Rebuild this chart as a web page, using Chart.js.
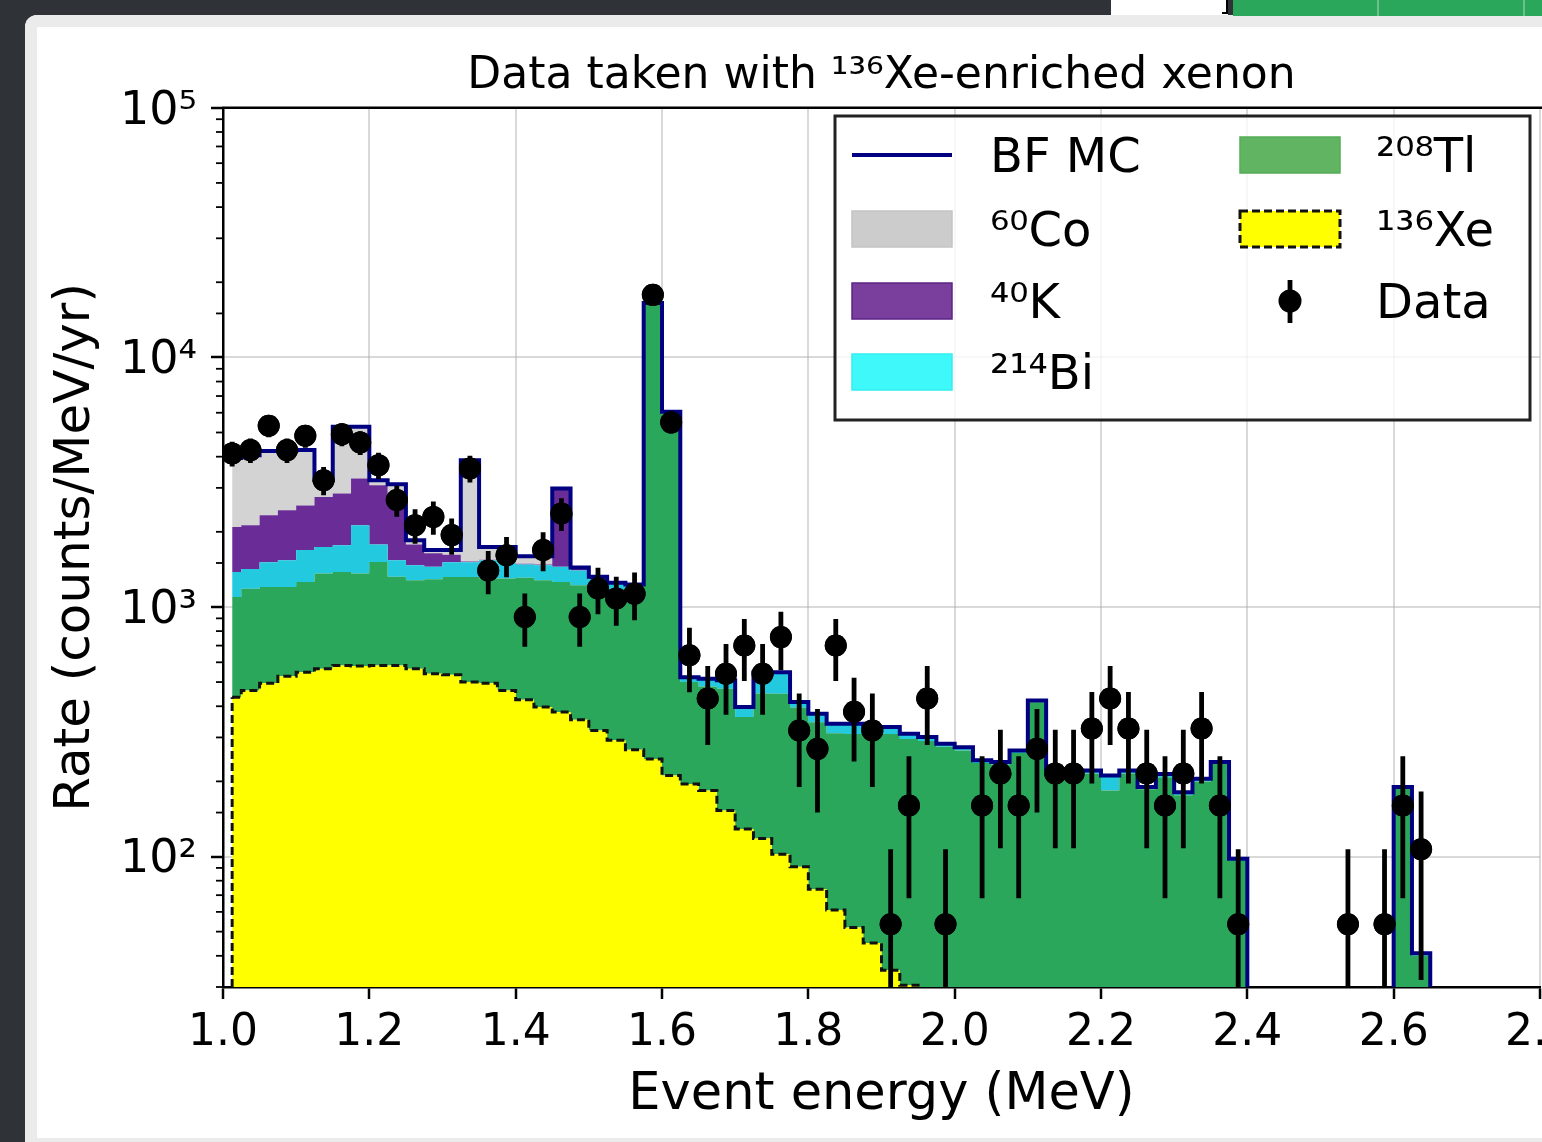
<!DOCTYPE html>
<html>
<head>
<meta charset="utf-8">
<title>Data taken with 136Xe-enriched xenon</title>
<script src="https://cdn.jsdelivr.net/npm/chart.js@4.4.1/dist/chart.umd.min.js"></script>
<style>
  html, body { margin: 0; padding: 0; width: 1542px; height: 1142px; overflow: hidden; background: #2f3338; }
  #card { position: absolute; left: 25px; top: 15px; width: 1600px; height: 1127px; box-sizing: border-box;
          background: #fff; border-top: 12px solid #ebebeb; border-left: 12px solid #ebebeb;
          border-bottom: 4px solid #ebebeb; border-top-left-radius: 12px; }
  /* bit of the next figure peeking in at the top */
  #peekWhite { position: absolute; left: 1111px; top: 0; width: 117px; height: 15px; background: #fff; }
  #peekBracket { position: absolute; left: 1222px; top: 0; width: 4px; height: 12px; border-right: 2px solid #000; border-bottom: 2px solid #000; }
  #peekGreen { position: absolute; left: 1233px; top: 0; width: 320px; height: 16px; background: #2aa75b; }
  .peekGrid { position: absolute; top: 0; width: 2px; height: 16px; background: rgba(255,255,255,0.3); }
  #chart { position: absolute; left: 0; top: 0; }
</style>
</head>
<body>
<div id="card"></div>
<div id="peekWhite"></div><div id="peekBracket"></div>
<div id="peekGreen"></div>
<div class="peekGrid" style="left:1377px"></div><div class="peekGrid" style="left:1523px"></div>
<canvas id="chart" width="1700" height="1142"></canvas>
<script>
//------------------data-------------------------------------------
// bin centres, 25 keV bins
const binCenters = [
  1.0125, 1.0375, 1.0625, 1.0875, 1.1125, 1.1375, 1.1625, 1.1875, 1.2125, 1.2375,
  1.2625, 1.2875, 1.3125, 1.3375, 1.3625, 1.3875, 1.4125, 1.4375, 1.4625, 1.4875,
  1.5125, 1.5375, 1.5625, 1.5875, 1.6125, 1.6375, 1.6625, 1.6875, 1.7125, 1.7375,
  1.7625, 1.7875, 1.8125, 1.8375, 1.8625, 1.8875, 1.9125, 1.9375, 1.9625, 1.9875,
  2.0125, 2.0375, 2.0625, 2.0875, 2.1125, 2.1375, 2.1625, 2.1875, 2.2125, 2.2375,
  2.2625, 2.2875, 2.3125, 2.3375, 2.3625, 2.3875, 2.4125, 2.4375, 2.4625, 2.4875,
  2.5125, 2.5375, 2.5625, 2.5875, 2.6125, 2.6375, 2.6625, 2.6875, 2.7125, 2.7375,
  2.7625, 2.7875
];

// MC components, counts/MeV/yr (stacked bottom to top)
const xe136 = [
  435, 463, 495, 527, 548, 565, 583, 580, 583, 583,
  565, 540, 535, 500, 495, 463, 425, 397, 379, 353,
  320, 292, 268, 246, 211, 195, 184, 153, 129, 118,
  102, 91, 74, 61, 52, 45, 35, 30.5, 0, 0,
  0, 0, 0, 0, 0, 0, 0, 0, 0, 0,
  0, 0, 0, 0, 0, 0, 0, 0, 0, 0,
  0, 0, 0, 0, 0, 0, 0, 0, 0, 0,
  0, 0
];
const tl208 = [
  661, 721, 707, 675, 711, 795, 797, 780, 931, 737,
  713, 750, 783, 818, 805, 837, 885, 881, 880, 868,
  830, 838, 852, 16150, 5690, 305, 296, 317, 233, 332,
  347, 304, 271, 251, 258, 258, 275, 265, 290, 275,
  266, 237, 233, 260, 415, 218, 215, 215, 184, 215,
  186, 208, 176, 200, 235, 96, 0, 0, 0, 0,
  0, 0, 0, 0, 187, 40, 0, 0, 0, 0,
  0, 0
];
const bi214 = [
  284, 236, 308, 338, 431, 380, 385, 765, 266, 220,
  192, 160, 192, 192, 240, 210, 170, 192, 191, 179,
  140, 100, 90, 50, 90, 23, 35, 38, 35, 98,
  99, 21, 28, 28, 30, 27, 20, 15, 11, 8,
  8, 6, 6, 6, 7, 6, 6, 6, 27, 6,
  4, 6, 5, 5, 4, 2, 0, 0, 0, 0,
  0, 0, 0, 0, 3, 1, 0, 0, 0, 0,
  0, 0
];
const k40 = [
  710, 705, 820, 900, 860, 1020, 1080, 1145, 1295, 1210,
  310, 190, 110, 10, 5, 10, 10, 10, 1490, 20,
  20, 10, 10, 20, 30, 0, 0, 0, 0, 0,
  0, 0, 0, 0, 0, 0, 0, 0, 0, 0,
  0, 0, 0, 0, 0, 0, 0, 0, 0, 0,
  0, 0, 0, 0, 0, 0, 0, 0, 0, 0,
  0, 0, 0, 0, 0, 0, 0, 0, 0, 0,
  0, 0
];
const co60 = [
  1860, 1925, 1890, 1780, 1700, 460, 2425, 2000, 145, 350,
  70, 50, 70, 2350, 195, 220, 105, 115, 40, 20,
  10, 10, 10, 30, 30, 0, 0, 0, 0, 0,
  0, 0, 0, 0, 0, 0, 0, 0, 0, 0,
  0, 0, 0, 0, 0, 0, 0, 0, 0, 0,
  0, 0, 0, 0, 0, 0, 0, 0, 0, 0,
  0, 0, 0, 0, 0, 0, 0, 0, 0, 0,
  0, 0
];

// measured rate and its error (null = empty bin)
const dataRate = [
  4120, 4250, 5320, 4250, 4850, 3220, 4920, 4560, 3700, 2680,
  2125, 2295, 1940, 3590, 1400, 1610, 912, 1690, 2370, 912,
  1185, 1080, 1130, 17800, 5490, 640, 430, 540, 700, 540,
  757, 320, 270, 700, 380, 320, 53.5, 160, 430, 53.5,
  null, 160, 215, 160, 270, 215, 215, 326, 430, 326,
  215, 160, 215, 326, 160, 53.5, null, null, null, null,
  null, 53.5, null, 53.5, 160, 107, null, null, null, null,
  null, null
];
const dataErr = [
  470, 480, 535, 480, 510, 415, 515, 495, 445, 380,
  335, 350, 320, 440, 275, 295, 220, 300, 355, 220,
  250, 240, 245, 975, 540, 185, 150, 170, 195, 170,
  200, 130, 120, 195, 140, 130, 53.5, 92, 150, 53.5,
  null, 92, 107, 92, 120, 107, 107, 130, 150, 130,
  107, 92, 107, 130, 92, 53.5, null, null, null, null,
  null, 53.5, null, 53.5, 92, 75, null, null, null, null,
  null, null
];

const yTickLabels = { 100: '10²', 1000: '10³', 10000: '10⁴', 100000: '10⁵' };

//------------------styles---------------------
const FONT = 'DejaVu Sans';
const ZERO_LEVEL = 1e-3;   // empty bins sit far below the axis on the log scale
const gridColor = 'rgba(170,170,170,0.45)';

Chart.defaults.font.family = FONT;
Chart.defaults.color = '#000';

function stepSeries(values) {
  return binCenters.map((x, i) => ({ x: x, y: values[i] > 0 ? values[i] : ZERO_LEVEL }));
}

function dataPoints() {
  const pts = [];
  binCenters.forEach((x, i) => {
    if (dataRate[i] != null) pts.push({ x: x, y: dataRate[i] });
  });
  return pts;
}

function stackLayer(values, fill, color) {
  return {
    type: 'line', stack: 'mc', data: stepSeries(values), stepped: 'middle',
    fill: fill, backgroundColor: color, borderWidth: 0, pointRadius: 0
  };
}

const xeLayer = stackLayer(xe136, 'start', '#ffff00');
xeLayer.borderWidth = 3;
xeLayer.borderColor = '#111';
xeLayer.borderDash = [8, 4];

const coLayer = stackLayer(co60, '-1', '#d3d3d3');
coLayer.borderWidth = 4;
coLayer.borderColor = '#000080';

//------------------plugins---------------------
const frameAndErrors = {
  id: 'frameAndErrors',
  afterDatasetsDraw(chart) {
    // left edge of the 136Xe outline
    const { ctx, chartArea: a, scales: { x, y } } = chart;
    ctx.save();
    ctx.beginPath();
    ctx.rect(a.left, a.top, a.right - a.left, a.bottom - a.top);
    ctx.clip();
    ctx.strokeStyle = '#111';
    ctx.lineWidth = 3;
    ctx.setLineDash([8, 4]);
    const px = x.getPixelForValue(binCenters[0]);
    ctx.beginPath();
    ctx.moveTo(px, a.bottom);
    ctx.lineTo(px, y.getPixelForValue(xe136[0]));
    ctx.stroke();
    ctx.restore();
  },
  afterDraw(chart) {
    const { ctx, chartArea: a, scales: { x, y } } = chart;
    ctx.save();

    // top spine
    ctx.strokeStyle = '#000';
    ctx.lineWidth = 2.5;
    ctx.beginPath();
    ctx.moveTo(a.left - 1, a.top);
    ctx.lineTo(a.right + 4, a.top);
    ctx.stroke();

    // minor ticks on the log axis
    ctx.lineWidth = 1.8;
    y.ticks.forEach(t => {
      if (yTickLabels[t.value]) return;
      const py = y.getPixelForValue(t.value);
      ctx.beginPath();
      ctx.moveTo(a.left - 7, py);
      ctx.lineTo(a.left, py);
      ctx.stroke();
    });

    // error bars
    ctx.beginPath();
    ctx.rect(a.left, a.top, a.right - a.left, a.bottom - a.top);
    ctx.clip();
    ctx.lineWidth = 4.8;
    binCenters.forEach((c, i) => {
      if (dataRate[i] == null) return;
      const px = x.getPixelForValue(c);
      const lo = dataRate[i] - dataErr[i];
      ctx.beginPath();
      ctx.moveTo(px, y.getPixelForValue(dataRate[i] + dataErr[i]));
      ctx.lineTo(px, lo > 0 ? y.getPixelForValue(lo) : a.bottom);
      ctx.stroke();
    });
    // markers back on top of grid and error bars
    chart.getDatasetMeta(5).data.forEach(p => p.draw(ctx, a));
    ctx.restore();
  }
};

// legend entries: two columns, filled top-down
const legendItems = [
  { text: 'BF MC', kind: 'line', color: '#000080', col: 0, row: 0 },
  { text: '⁶⁰Co', kind: 'box', color: '#cccccc', edge: '#c4c4c4', col: 0, row: 1 },
  { text: '⁴⁰K', kind: 'box', color: '#7a3e9c', edge: '#5e2486', col: 0, row: 2 },
  { text: '²¹⁴Bi', kind: 'box', color: '#3ff8fa', edge: '#33eef0', col: 0, row: 3 },
  { text: '²⁰⁸Tl', kind: 'box', color: '#61b562', edge: '#55ad57', col: 1, row: 0 },
  { text: '¹³⁶Xe', kind: 'dashed', color: '#ffff00', edge: '#111', col: 1, row: 1 },
  { text: 'Data', kind: 'marker', color: '#000', col: 1, row: 2 }
];

const boxLegend = {
  id: 'boxLegend',
  afterDraw(chart) {
    const { ctx } = chart;
    const box = { x: 835, y: 116, w: 695, h: 304 };
    const colX = [852, 1240];
    const textX = [990, 1376];
    const rowY = [155, 229, 301, 372];
    ctx.save();
    ctx.fillStyle = 'rgba(255,255,255,0.8)';
    ctx.fillRect(box.x, box.y, box.w, box.h);
    ctx.strokeStyle = '#222';
    ctx.lineWidth = 3;
    ctx.strokeRect(box.x, box.y, box.w, box.h);

    legendItems.forEach(it => {
      const hx = colX[it.col];
      const cy = rowY[it.row];
      if (it.kind === 'line') {
        ctx.strokeStyle = it.color;
        ctx.lineWidth = 4;
        ctx.beginPath();
        ctx.moveTo(hx, cy);
        ctx.lineTo(hx + 100, cy);
        ctx.stroke();
      } else if (it.kind === 'box' || it.kind === 'dashed') {
        ctx.fillStyle = it.color;
        ctx.fillRect(hx, cy - 18, 100, 36);
        ctx.strokeStyle = it.edge;
        ctx.lineWidth = it.kind === 'dashed' ? 3 : 1.5;
        ctx.setLineDash(it.kind === 'dashed' ? [8, 4] : []);
        ctx.strokeRect(hx, cy - 18, 100, 36);
        ctx.setLineDash([]);
      } else if (it.kind === 'marker') {
        ctx.strokeStyle = it.color;
        ctx.lineWidth = 4.8;
        ctx.beginPath();
        ctx.moveTo(hx + 50, cy - 21);
        ctx.lineTo(hx + 50, cy + 22);
        ctx.stroke();
        ctx.fillStyle = it.color;
        ctx.beginPath();
        ctx.arc(hx + 50, cy, 11.5, 0, Math.PI * 2);
        ctx.fill();
      }
      ctx.fillStyle = '#000';
      ctx.font = '48px "' + FONT + '"';
      ctx.textBaseline = 'alphabetic';
      ctx.textAlign = 'left';
      ctx.fillText(it.text, textX[it.col], cy + 17);
    });
    ctx.restore();
  }
};

//------------------chart---------------------
function createChart() {
  const chartCanvas = document.getElementById('chart').getContext('2d');

  new Chart(chartCanvas, {
    type: 'line',
    data: {
      datasets: [
        xeLayer,
        stackLayer(tl208, '-1', '#2aa75b'),
        stackLayer(bi214, '-1', '#22c9df'),
        stackLayer(k40, '-1', '#6a2c96'),
        coLayer,
        {
          type: 'scatter', stack: 'data', order: -1, data: dataPoints(),
          pointRadius: 11, pointBackgroundColor: '#000', pointBorderWidth: 0, showLine: false
        }
      ]
    },
    options: {
      responsive: false,
      animation: false,
      devicePixelRatio: 1,
      layout: { padding: { left: 0, top: 0, right: 160, bottom: 0 } },
      plugins: {
        legend: { display: false },
        tooltip: { enabled: false },
        filler: { drawTime: 'beforeDatasetsDraw' },
        title: {
          display: true,
          fullSize: false,
          text: 'Data taken with ¹³⁶Xe-enriched xenon',
          color: '#000',
          font: { family: FONT, size: 44, weight: 'normal' },
          padding: { top: 50, bottom: 5 }
        }
      },
      scales: {
        x: {
          type: 'linear', min: 1.0, max: 2.8, z: 1,
          ticks: {
            stepSize: 0.2, includeBounds: false, autoSkip: false, maxRotation: 0,
            padding: 8, color: '#000', font: { size: 44 },
            callback: v => v.toFixed(1)
          },
          grid: { color: gridColor, lineWidth: 2, tickLength: 12, tickColor: '#000', tickWidth: 2.5 },
          border: { color: '#000', width: 2.5 },
          title: {
            display: true, text: 'Event energy (MeV)', color: '#000',
            font: { size: 51 }, padding: { top: 0, bottom: 16 }
          },
          afterFit: s => { s.height = 155; s.paddingLeft = 0; s.paddingRight = 0; }
        },
        y: {
          type: 'logarithmic', stacked: true, min: 30, max: 100000, z: 1,
          ticks: {
            autoSkip: false, padding: 14, labelOffset: 4, color: '#000', font: { size: 46 },
            callback: v => yTickLabels[v] || ''
          },
          grid: {
            color: c => (c.tick && yTickLabels[c.tick.value]) ? gridColor : 'rgba(0,0,0,0)',
            tickColor: c => (c.tick && yTickLabels[c.tick.value]) ? '#000' : 'rgba(0,0,0,0)',
            lineWidth: 2, tickLength: 12, tickWidth: 2.5
          },
          border: { color: '#000', width: 2.5 },
          title: {
            display: true, text: 'Rate (counts/MeV/yr)', color: '#000',
            font: { size: 50 }, padding: { top: 46, bottom: 0 }
          },
          afterFit: s => { s.width = 223; s.paddingTop = 0; s.paddingBottom = 0; }
        }
      }
    },
    plugins: [frameAndErrors, boxLegend]
  });
}

createChart();
</script>
</body>
</html>
